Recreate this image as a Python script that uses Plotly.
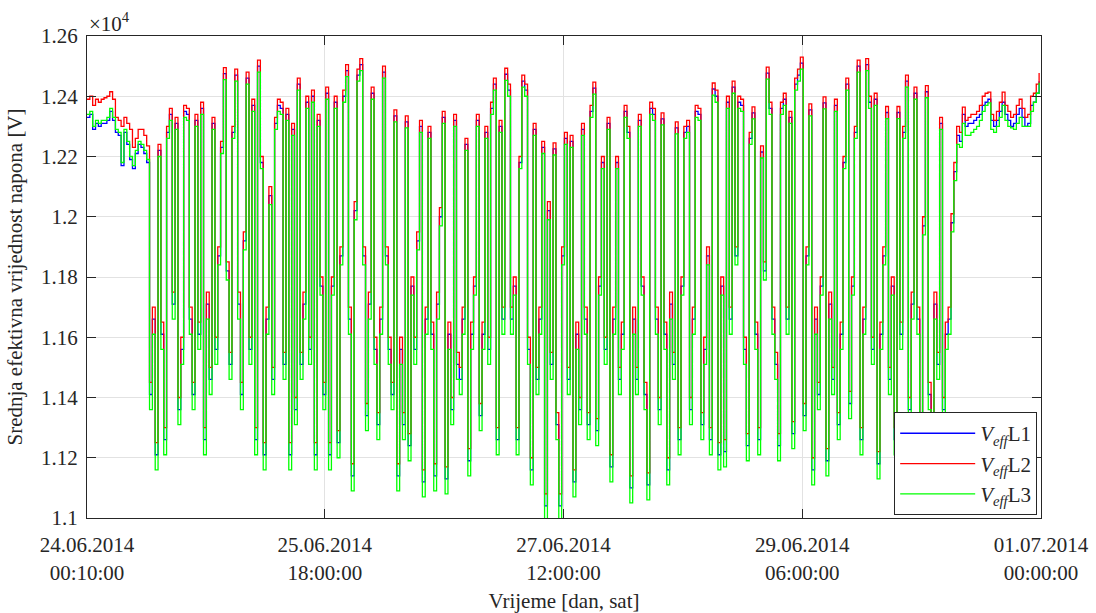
import pandas as pd
import plotly.graph_objects as go

# ---- data (10-minute averages resampled at 30 min) ----
start_time = "2014-06-24 00:10"
n_points = 336
times = pd.date_range(start_time, periods=n_points, freq="30min")

L2 = [
    12390,12400,12370,12390,12380,12390,12395,12400,12415,12390,12330,12320,
    12300,12330,12310,12290,12230,12260,12290,12290,12270,12235,11450,11700,
    11250,12240,11650,11300,12300,12360,11750,12330,11400,11600,12370,12360,
    11700,11450,12340,11650,12380,11300,11750,11500,12330,11600,11900,12250,
    12495,11850,11550,12300,12490,11750,11450,11950,12480,11600,12390,11300,
    12520,12200,11250,11700,12100,11500,12330,12390,12380,11550,12360,11250,
    12310,11400,12460,11550,11750,12400,11600,12420,11250,12340,11800,11450,
    12430,11250,11800,12400,11290,11900,12420,12505,11700,11180,12050,12490,
    12525,11900,11380,11750,12430,11600,11350,11700,12500,11900,11600,11450,
    12355,11180,11600,11350,12335,11280,11800,11600,11950,12320,11160,11700,
    12300,11650,11180,11750,12030,12350,11170,11650,11400,12340,11550,11500,
    11700,12260,11230,11650,11800,12340,11380,11650,12300,11600,12380,12460,
    11300,12320,11700,12493,12440,11700,11800,11300,12200,12470,12440,11600,
    11200,12310,11500,11700,12250,11080,12050,11550,12245,11350,11080,11900,
    12280,11500,12270,11160,11650,11400,12310,11700,11350,12370,12447,11330,
    11800,12200,11600,12330,11210,11700,12200,11500,11650,12370,12300,11140,
    11700,11500,12340,11800,11450,11150,12380,12360,11700,11400,12345,11650,
    11200,11750,11550,12315,11300,11800,12300,12320,11400,11700,12370,12360,
    11350,11600,11900,11300,12444,12420,11250,11800,11260,12400,11700,12450,
    11900,12400,12390,11600,11280,12280,12365,11650,11300,12235,11850,12497,
    12380,11700,11550,11280,12380,12410,11700,12350,11320,12460,12490,12530,
    11380,11900,12375,11200,11700,11450,11800,12398,11230,11750,11500,12390,
    11350,11650,12200,12460,11420,11800,12300,12520,11300,11700,12525,12400,
    11600,12410,11220,11650,11900,12366,11500,11800,11300,12366,11650,12300,
    12470,11400,11750,12430,11700,11350,12000,12435,11450,11300,11750,11550,
    12330,11400,11650,11700,12010,12180,12300,12280,12364,12320,12330,12340,
    12340,12350,12370,12400,12410,12414,12340,12320,12350,12380,12414,12370,
    12350,12330,12340,12370,12390,12360,12330,12340,12400,12410,12440,12477,
]

L1 = [
    12330,12340,12290,12310,12300,12310,12310,12320,12350,12320,12280,12270,
    12170,12280,12240,12190,12160,12210,12240,12230,12210,12180,11410,11660,
    11210,12220,11610,11260,12280,12340,11710,12310,11360,11560,12350,12340,
    11660,11410,12320,11610,12360,11260,11710,11460,12310,11560,11870,12230,
    12475,11820,11510,12280,12470,11710,11410,11920,12460,11560,12370,11260,
    12500,12180,11210,11660,12070,11460,12310,12370,12360,11510,12340,11210,
    12290,11360,12440,11510,11710,12380,11560,12400,11210,12320,11770,11410,
    12410,11210,11770,12380,11250,11870,12400,12485,11660,11140,12020,12470,
    12505,11870,11340,11710,12410,11560,11310,11660,12480,11870,11560,11410,
    12335,11140,11560,11310,12315,11240,11770,11560,11920,12300,11120,11660,
    12280,11610,11140,11710,12000,12330,11130,11610,11360,12320,11510,11460,
    11660,12240,11190,11610,11770,12320,11340,11610,12280,11560,12360,12440,
    11260,12300,11660,12473,12420,11660,11770,11260,12180,12450,12420,11560,
    11160,12290,11460,11660,12230,11040,12020,11510,12225,11310,11040,11870,
    12260,11460,12250,11120,11610,11360,12290,11660,11310,12350,12427,11290,
    11770,12180,11560,12310,11170,11660,12180,11460,11610,12350,12280,11100,
    11660,11460,12320,11770,11410,11110,12360,12340,11660,11360,12325,11610,
    11160,11710,11510,12295,11260,11770,12280,12300,11360,11660,12350,12340,
    11310,11560,11870,11260,12424,12400,11210,11770,11220,12380,11660,12430,
    11870,12380,12370,11560,11240,12260,12345,11610,11260,12215,11820,12477,
    12360,11660,11510,11240,12360,12390,11660,12330,11280,12440,12470,12510,
    11340,11870,12355,11160,11660,11410,11770,12378,11190,11710,11460,12370,
    11310,11610,12180,12440,11380,11770,12280,12500,11260,11660,12505,12380,
    11560,12390,11180,11610,11870,12346,11460,11770,11260,12346,11610,12280,
    12450,11360,11710,12410,11660,11310,11970,12415,11410,11260,11710,11510,
    12310,11360,11610,11660,11980,12150,12270,12250,12340,12300,12310,12310,
    12320,12330,12340,12370,12380,12390,12320,12300,12320,12350,12380,12340,
    12320,12300,12310,12340,12360,12330,12300,12310,12370,12380,12410,12450,
]

L3 = [
    12340,12350,12300,12320,12310,12320,12320,12330,12360,12330,12290,12280,
    12180,12290,12250,12200,12170,12220,12250,12240,12220,12190,11360,11610,
    11160,12200,11560,11210,12260,12320,11660,12290,11310,11510,12330,12320,
    11610,11360,12300,11560,12340,11210,11660,11410,12290,11510,11840,12210,
    12455,11790,11460,12260,12450,11660,11360,11890,12440,11510,12350,11210,
    12480,12160,11160,11610,12040,11410,12290,12350,12340,11460,12320,11160,
    12270,11310,12420,11460,11660,12360,11510,12380,11160,12300,11740,11360,
    12390,11160,11740,12360,11200,11840,12380,12465,11610,11090,11990,12450,
    12485,11840,11290,11660,12390,11510,11260,11610,12460,11840,11510,11360,
    12315,11090,11510,11260,12295,11190,11740,11510,11890,12280,11070,11610,
    12260,11560,11090,11660,11970,12310,11080,11560,11310,12300,11460,11410,
    11610,12220,11140,11560,11740,12300,11290,11560,12260,11510,12340,12420,
    11210,12280,11610,12453,12400,11610,11740,11210,12160,12430,12400,11510,
    11110,12270,11410,11610,12210,10990,11990,11460,12205,11260,10990,11840,
    12240,11410,12230,11070,11560,11310,12270,11610,11260,12330,12407,11240,
    11740,12160,11510,12290,11120,11610,12160,11410,11560,12330,12260,11050,
    11610,11410,12300,11740,11360,11060,12340,12320,11610,11310,12305,11560,
    11110,11660,11460,12275,11210,11740,12260,12280,11310,11610,12330,12320,
    11260,11510,11840,11210,12404,12380,11160,11740,11170,12360,11610,12410,
    11840,12360,12350,11510,11190,12240,12325,11560,11210,12195,11790,12457,
    12340,11610,11460,11190,12340,12370,11610,12310,11230,12420,12450,12490,
    11290,11840,12335,11110,11610,11360,11740,12358,11140,11660,11410,12350,
    11260,11560,12160,12420,11330,11740,12260,12480,11210,11610,12485,12360,
    11510,12370,11130,11560,11840,12326,11410,11740,11210,12326,11560,12260,
    12430,11310,11660,12390,11610,11260,11940,12395,11360,11210,11660,11460,
    12290,11310,11560,11610,11950,12120,12240,12230,12310,12270,12270,12280,
    12290,12300,12320,12350,12370,12378,12290,12280,12300,12330,12370,12320,
    12300,12295,12290,12310,12330,12300,12300,12300,12350,12380,12410,12445,
]

series_names = ["<i>V</i><sub><i>eff</i></sub>L1",
                "<i>V</i><sub><i>eff</i></sub>L2",
                "<i>V</i><sub><i>eff</i></sub>L3"]
series_colors = ["#0000ff", "#ff0000", "#00ff00"]

x_tick_vals = ["2014-06-24 00:10", "2014-06-25 18:00", "2014-06-27 12:00",
               "2014-06-29 06:00", "2014-07-01 00:00"]
x_tick_text = ["24.06.2014<br>00:10:00", "25.06.2014<br>18:00:00",
               "27.06.2014<br>12:00:00", "29.06.2014<br>06:00:00",
               "01.07.2014<br>00:00:00"]
y_tick_vals = [11000, 11200, 11400, 11600, 11800, 12000, 12200, 12400, 12600]
y_tick_text = ["1.1", "1.12", "1.14", "1.16", "1.18", "1.2", "1.22", "1.24", "1.26"]

FONT = "'Liberation Serif', 'Times New Roman', 'DejaVu Serif', serif"
DARK = "#262626"

fig = go.Figure()
for name, vals, col in zip(series_names, [L1, L2, L3], series_colors):
    fig.add_trace(go.Scatter(x=times, y=vals, mode="lines", name=name,
                             line=dict(color=col, width=1.3, shape="hv")))

fig.update_layout(
    width=1096, height=613,
    margin=dict(l=87, r=55, t=36, b=95),
    paper_bgcolor="white", plot_bgcolor="white",
    font=dict(family=FONT, size=21, color=DARK),
    showlegend=True,
    legend=dict(x=0.996, y=0.006, xanchor="right", yanchor="bottom",
                bgcolor="white", bordercolor=DARK, borderwidth=1,
                font=dict(family=FONT, size=21, color=DARK),
                tracegroupgap=0, itemwidth=75),
    xaxis=dict(range=["2014-06-24 00:10", "2014-07-01 00:00"],
               tickmode="array", tickvals=x_tick_vals, ticktext=x_tick_text,
               ticks="inside", ticklen=9, tickcolor=DARK, mirror="ticks",
               showline=True, linecolor=DARK, linewidth=1,
               showgrid=True, gridcolor="#e2e2e2", gridwidth=1,
               zeroline=False, automargin=False, ticklabelstandoff=8,
               tickfont=dict(family=FONT, size=21, color=DARK),
               title=dict(text="Vrijeme [dan, sat]", standoff=14,
                          font=dict(family=FONT, size=21, color=DARK))),
    yaxis=dict(range=[11000, 12600],
               tickmode="array", tickvals=y_tick_vals, ticktext=y_tick_text,
               ticks="inside", ticklen=9, tickcolor=DARK, mirror="ticks",
               showline=True, linecolor=DARK, linewidth=1,
               showgrid=True, gridcolor="#e2e2e2", gridwidth=1,
               zeroline=False, automargin=False, ticklabelstandoff=4,
               tickfont=dict(family=FONT, size=21, color=DARK),
               title=dict(text="Srednja efektivna vrijednost napona [V]", standoff=12,
                          font=dict(family=FONT, size=21, color=DARK))),
)

fig.add_annotation(x=0, y=1, xref="paper", yref="paper", xanchor="left", yanchor="bottom",
                   text="×10<sup>4</sup>", showarrow=False, yshift=-2,
                   font=dict(family=FONT, size=21, color=DARK))

fig.write_html("out.html")
